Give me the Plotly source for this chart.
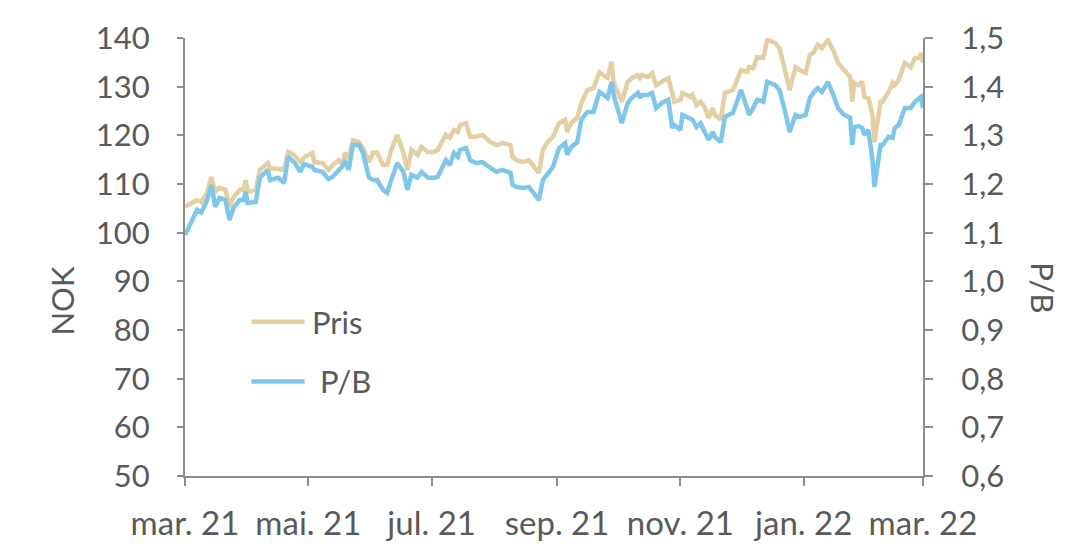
import plotly.graph_objects as go

# Trading dates (sampled) for the share price and the P/B multiple
dates = [
    "2021-03-01", "2021-03-07", "2021-03-09", "2021-03-12", "2021-03-14", "2021-03-16", "2021-03-18", "2021-03-21", "2021-03-23", "2021-03-25",
    "2021-03-28", "2021-03-30", "2021-03-31", "2021-04-01", "2021-04-05", "2021-04-07", "2021-04-11", "2021-04-12", "2021-04-16", "2021-04-19",
    "2021-04-21", "2021-04-24", "2021-04-27", "2021-04-29", "2021-05-03", "2021-05-04", "2021-05-08", "2021-05-11", "2021-05-13", "2021-05-16",
    "2021-05-18", "2021-05-19", "2021-05-21", "2021-05-23", "2021-05-26", "2021-05-28", "2021-05-31", "2021-06-02", "2021-06-04", "2021-06-07",
    "2021-06-09", "2021-06-11", "2021-06-14", "2021-06-17", "2021-06-19", "2021-06-21", "2021-06-24", "2021-06-26", "2021-06-29", "2021-07-02",
    "2021-07-04", "2021-07-08", "2021-07-10", "2021-07-12", "2021-07-14", "2021-07-15", "2021-07-18", "2021-07-20", "2021-07-23", "2021-07-26",
    "2021-07-30", "2021-08-02", "2021-08-05", "2021-08-09", "2021-08-10", "2021-08-12", "2021-08-15", "2021-08-18", "2021-08-20", "2021-08-23",
    "2021-08-25", "2021-08-27", "2021-08-30", "2021-09-02", "2021-09-05", "2021-09-06", "2021-09-08", "2021-09-11", "2021-09-13", "2021-09-16",
    "2021-09-19", "2021-09-22", "2021-09-25", "2021-09-26", "2021-09-28", "2021-09-29", "2021-10-03", "2021-10-06", "2021-10-08", "2021-10-11",
    "2021-10-12", "2021-10-13", "2021-10-16", "2021-10-18", "2021-10-20", "2021-10-23", "2021-10-26", "2021-10-28", "2021-10-29", "2021-11-01",
    "2021-11-02", "2021-11-06", "2021-11-07", "2021-11-09", "2021-11-11", "2021-11-13", "2021-11-15", "2021-11-17", "2021-11-18", "2021-11-21",
    "2021-11-23", "2021-11-27", "2021-12-01", "2021-12-04", "2021-12-05", "2021-12-07", "2021-12-09", "2021-12-12", "2021-12-14", "2021-12-18",
    "2021-12-20", "2021-12-23", "2021-12-25", "2021-12-28", "2021-12-30", "2022-01-02", "2022-01-04", "2022-01-06", "2022-01-08", "2022-01-10",
    "2022-01-13", "2022-01-16", "2022-01-18", "2022-01-21", "2022-01-24", "2022-01-25", "2022-01-26", "2022-01-28", "2022-01-30", "2022-01-31",
    "2022-02-02", "2022-02-04", "2022-02-05", "2022-02-08", "2022-02-09", "2022-02-12", "2022-02-14", "2022-02-15", "2022-02-17", "2022-02-20",
    "2022-02-23", "2022-02-25", "2022-02-27", "2022-02-28", "2022-03-01",
]

# Share price, NOK (left axis)
pris = [
    105.3, 106.7, 106.3, 108.2, 111.4, 108.4, 109.2, 108.8, 105.3, 107.3,
    108.8, 108.8, 110.8, 108.4, 108.8, 112.9, 114.3, 113.3, 113.1, 112.9,
    116.6, 116.0, 114.5, 115.5, 116.4, 114.5, 114.3, 112.9, 113.9, 114.9,
    113.9, 116.4, 115.3, 119.0, 118.6, 117.4, 114.5, 116.4, 116.4, 113.9,
    113.9, 117.0, 120.1, 116.4, 112.9, 117.0, 116.0, 117.6, 116.6, 116.6,
    117.0, 120.1, 119.5, 121.1, 120.7, 122.1, 122.5, 119.7, 119.7, 120.1,
    118.6, 118.0, 118.4, 118.0, 115.5, 114.9, 114.5, 114.9, 113.9, 112.3,
    117.0, 118.4, 119.7, 122.5, 123.2, 120.7, 122.5, 123.6, 126.6, 129.3,
    129.7, 133.0, 132.0, 131.8, 135.1, 131.0, 126.9, 131.0, 131.8, 132.4,
    131.8, 132.4, 132.0, 132.8, 130.3, 131.0, 131.8, 128.7, 126.9, 127.3,
    128.7, 127.9, 128.3, 126.2, 126.9, 125.8, 123.6, 125.6, 124.2, 123.2,
    128.7, 129.3, 133.4, 133.0, 134.0, 133.8, 136.1, 135.9, 139.6, 139.0,
    137.9, 133.0, 129.3, 134.0, 133.4, 132.8, 136.5, 137.1, 138.6, 137.9,
    139.6, 137.1, 134.9, 133.4, 132.0, 126.9, 130.8, 130.3, 131.0, 127.9,
    127.7, 124.2, 118.6, 126.9, 126.9, 128.9, 130.8, 130.3, 131.4, 134.9,
    134.0, 135.9, 135.9, 136.9, 134.9,
]

# Price-to-book multiple (right axis)
pb = [
    1.095, 1.147, 1.141, 1.167, 1.198, 1.153, 1.171, 1.167, 1.126, 1.151,
    1.167, 1.167, 1.184, 1.161, 1.163, 1.213, 1.229, 1.208, 1.213, 1.202,
    1.256, 1.245, 1.225, 1.241, 1.235, 1.229, 1.225, 1.210, 1.215, 1.227,
    1.237, 1.249, 1.229, 1.280, 1.280, 1.264, 1.213, 1.208, 1.208, 1.188,
    1.182, 1.208, 1.243, 1.225, 1.188, 1.219, 1.213, 1.225, 1.213, 1.213,
    1.215, 1.249, 1.239, 1.264, 1.256, 1.270, 1.274, 1.249, 1.243, 1.245,
    1.233, 1.225, 1.229, 1.223, 1.198, 1.194, 1.192, 1.194, 1.184, 1.167,
    1.208, 1.219, 1.235, 1.274, 1.284, 1.260, 1.276, 1.286, 1.332, 1.348,
    1.348, 1.389, 1.379, 1.377, 1.410, 1.383, 1.325, 1.367, 1.377, 1.387,
    1.377, 1.383, 1.383, 1.387, 1.356, 1.367, 1.373, 1.315, 1.321, 1.311,
    1.342, 1.332, 1.332, 1.317, 1.325, 1.307, 1.291, 1.307, 1.297, 1.286,
    1.338, 1.346, 1.393, 1.356, 1.342, 1.356, 1.373, 1.369, 1.410, 1.403,
    1.393, 1.346, 1.307, 1.342, 1.338, 1.342, 1.377, 1.389, 1.397, 1.389,
    1.410, 1.379, 1.356, 1.342, 1.336, 1.280, 1.317, 1.319, 1.315, 1.301,
    1.311, 1.249, 1.194, 1.280, 1.280, 1.297, 1.295, 1.315, 1.321, 1.356,
    1.356, 1.369, 1.377, 1.379, 1.356,
]

tick_dates = ["2021-03-01", "2021-05-01", "2021-07-01", "2021-09-01",
              "2021-11-01", "2022-01-01", "2022-03-01"]
tick_labels = ["mar. 21", "mai. 21", "jul. 21", "sep. 21",
               "nov. 21", "jan. 22", "mar. 22"]

series_names = ["Pris", "P/B"]

TAN = "#E3CFA2"
BLUE = "#7EC7EA"
AXIS = "#8C8C8C"
TEXT = "#595959"
FONT = "Lato, 'Open Sans', sans-serif"

fig = go.Figure()
fig.add_trace(go.Scatter(x=dates, y=pris, name=series_names[0], mode="lines",
                         line=dict(color=TAN, width=4.5)))
fig.add_trace(go.Scatter(x=dates, y=pb, name=series_names[1], mode="lines", yaxis="y2",
                         line=dict(color=BLUE, width=4.5)))

# Legend keys drawn inside the plot area: long line samples with labels
legend_rows = [(0.352, TAN, series_names[0], 0.1695),
               (0.216, BLUE, " " + series_names[1], 0.1695)]
shapes = []
annotations = []
for y, color, label, xt in legend_rows:
    shapes.append(dict(type="line", xref="paper", yref="paper",
                       x0=0.090, x1=0.162, y0=y, y1=y,
                       line=dict(color=color, width=4.5)))
    annotations.append(dict(text=label, xref="paper", yref="paper", x=xt, y=y,
                            xanchor="left", yanchor="middle", showarrow=False,
                            font=dict(size=31, color=TEXT)))

annotations += [
    dict(text="NOK", xref="paper", yref="paper", x=-0.167, y=0.40,
         xanchor="center", yanchor="middle", textangle=-90,
         showarrow=False, font=dict(size=31, color=TEXT)),
    dict(text="P/B", xref="paper", yref="paper", x=1.163, y=0.43,
         xanchor="center", yanchor="middle", textangle=90,
         showarrow=False, font=dict(size=31, color=TEXT)),
]

fig.update_layout(
    width=1066, height=558,
    margin=dict(l=185, r=143, t=38, b=82),
    paper_bgcolor="white", plot_bgcolor="white",
    separators=", ",
    font=dict(family=FONT, size=31, color=TEXT),
    showlegend=False,
    shapes=shapes,
    annotations=annotations,
    xaxis=dict(
        type="date", range=["2021-03-01", "2022-03-01"],
        tickvals=tick_dates, ticktext=tick_labels,
        tickfont=dict(size=33),
        showline=True, linecolor=AXIS, linewidth=2,
        ticks="outside", ticklen=8, tickwidth=2, tickcolor=AXIS,
        ticklabelstandoff=9, showgrid=False, zeroline=False,
    ),
    yaxis=dict(
        range=[50, 140], dtick=10, tick0=50,
        showline=True, linecolor=AXIS, linewidth=2,
        ticks="outside", ticklen=6, tickwidth=2, tickcolor=AXIS,
        ticklabelstandoff=21, showgrid=False, zeroline=False,
    ),
    yaxis2=dict(
        range=[0.6, 1.5], dtick=0.1, tick0=0.6, tickformat=".1f",
        overlaying="y", side="right",
        showline=True, linecolor=AXIS, linewidth=2,
        ticks="outside", ticklen=8, tickwidth=2, tickcolor=AXIS,
        ticklabelstandoff=22, showgrid=False, zeroline=False,
    ),
)

fig.write_html("out.html")
